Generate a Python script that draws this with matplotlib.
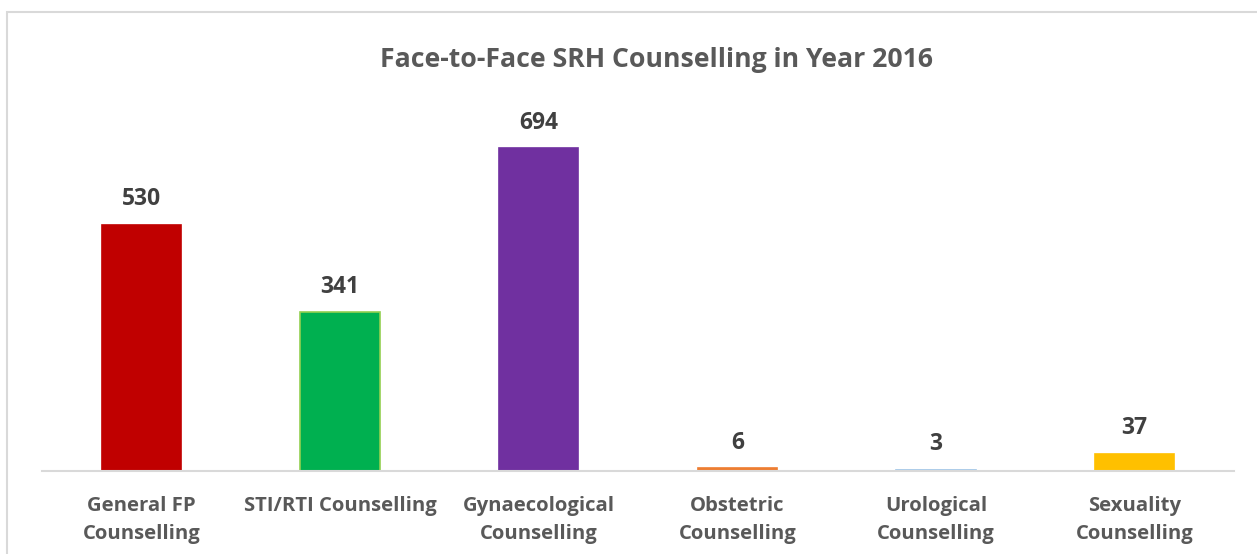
import matplotlib
matplotlib.use("Agg")
import matplotlib.pyplot as plt
from matplotlib.patches import Rectangle

categories = ["General FP\nCounselling", "STI/RTI Counselling", "Gynaecological\nCounselling",
              "Obstetric\nCounselling", "Urological\nCounselling", "Sexuality\nCounselling"]
values = [530, 341, 694, 6, 3, 37]
bar_colors = ["#C00000", "#00B050", "#7030A0", "#ED7D31", "#9DC3E6", "#FFC000"]
edge_colors = ["#C00000", "#92D050", "#7030A0", "#ED7D31", "#9DC3E6", "#FFC000"]
title = "Face-to-Face SRH Counselling in Year 2016"

plt.rcParams['font.family'] = ['Open Sans', 'DejaVu Sans']

W, H = 1257, 554
fig = plt.figure(figsize=(W / 100, H / 100), dpi=100)
fig.patch.set_facecolor("white")

# chart frame
fig.patches.append(Rectangle((7 / W, -0.05), 1.1, 1 - 12 / H + 0.05, transform=fig.transFigure,
                             fill=False, edgecolor="#D9D9D9", linewidth=1.5))

ax = fig.add_axes([42 / W, 1 - 471 / H, (1234 - 42) / W, (471 - 99) / H])
x = range(len(categories))
ax.bar(x, values, width=0.40, color=bar_colors, edgecolor=edge_colors, linewidth=1.2)
ax.set_xlim(-0.5, len(categories) - 0.5)
ax.set_ylim(0, 800)

for xi, v in zip(x, values):
    ax.annotate(str(v), (xi, v), xytext=(0, 18.5), textcoords="offset points",
                ha="center", va="center", fontsize=16.5, fontweight="bold", color="#404040")

ax.set_xticks(list(x))
ax.set_xticklabels(categories, fontsize=14.6, fontweight="bold", color="#595959", linespacing=1.5,
                   va="top")
ax.tick_params(axis="x", length=0, pad=18)
ax.set_yticks([])
for s in ["top", "right", "left"]:
    ax.spines[s].set_visible(False)
ax.spines["bottom"].set_color("#D9D9D9")
ax.spines["bottom"].set_linewidth(1.5)

fig.text(657 / W, 1 - 60 / H, title, ha="center", va="center", fontsize=19.2,
         fontweight="bold", color="#595959")

fig.savefig("out.png", dpi=100)
